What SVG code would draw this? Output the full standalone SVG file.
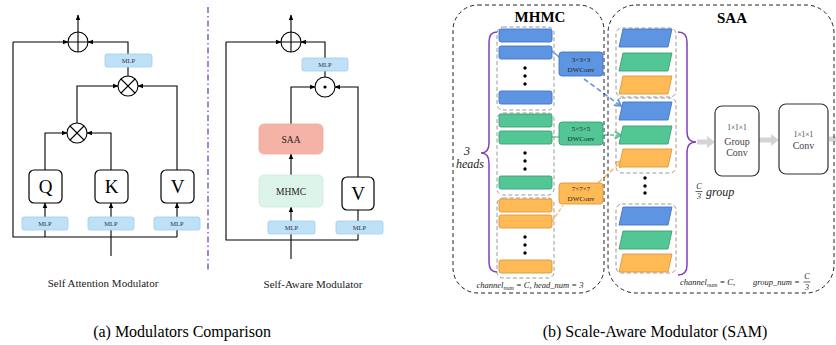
<svg xmlns="http://www.w3.org/2000/svg" width="836" height="345" viewBox="0 0 836 345">
<style>
.ln{fill:none;stroke:#000;stroke-width:1.1}
.circ{fill:#fff;stroke:#000;stroke-width:1.1}
.mlp{fill:#BFE1F8;stroke:#9FCDEF;stroke-width:0.8}
.mlpt{font-family:"Liberation Serif",serif;font-size:6.5px;fill:#333;text-anchor:middle}
.box{fill:#fff;stroke:#000;stroke-width:1.2}
.big{font-family:"Liberation Serif",serif;font-size:19px;fill:#000;text-anchor:middle}
.lbl{font-family:"Liberation Serif",serif;font-size:11px;fill:#222;text-anchor:middle}
.cap{font-family:"Liberation Serif",serif;font-size:16px;fill:#000;text-anchor:middle}
.title{font-family:"Liberation Serif",serif;font-size:15px;font-weight:bold;fill:#000;text-anchor:middle}
.dash{fill:none;stroke:#222;stroke-width:1;stroke-dasharray:4 3}
.gdash{fill:none;stroke:#9a9a9a;stroke-width:1;stroke-dasharray:4 2.5}
.bl{fill:#5E95E3;stroke:#4472C4;stroke-width:0.9}
.gr{fill:#52C795;stroke:#3C9E73;stroke-width:0.9}
.or{fill:#FFBA55;stroke:#D9993D;stroke-width:0.9}
.dw{font-family:"Liberation Serif",serif;font-size:7px;fill:#222;text-anchor:middle}
.it{font-family:"Liberation Serif",serif;font-style:italic;fill:#222}
.brace{fill:none;stroke:#7F3FBF;stroke-width:1.5}
.gt{font-family:"Liberation Serif",serif;fill:#444;text-anchor:middle}
.garrow{fill:#D4D4D4}
</style>
<defs>
<marker id="ah" viewBox="0 0 10 10" refX="9" refY="5" markerWidth="6" markerHeight="6" markerUnits="userSpaceOnUse" orient="auto"><path d="M0,1 L10,5 L0,9 z" fill="#000"/></marker>
<marker id="cb" viewBox="0 0 10 10" refX="8" refY="5" markerWidth="9" markerHeight="9" markerUnits="userSpaceOnUse" orient="auto"><path d="M1,1 L8,5 L1,9" fill="none" stroke="#5E95E3" stroke-width="2"/></marker>
<marker id="cg" viewBox="0 0 10 10" refX="8" refY="5" markerWidth="9" markerHeight="9" markerUnits="userSpaceOnUse" orient="auto"><path d="M1,1 L8,5 L1,9" fill="none" stroke="#52C795" stroke-width="2"/></marker>
<marker id="co" viewBox="0 0 10 10" refX="8" refY="5" markerWidth="9" markerHeight="9" markerUnits="userSpaceOnUse" orient="auto"><path d="M1,1 L8,5 L1,9" fill="none" stroke="#FFBA55" stroke-width="2"/></marker>
</defs>
<rect width="836" height="345" fill="#fff"/>

<!-- ========== connectors ========== -->
<g id="connectors">
  <!-- (a) Self Attention Modulator -->
  <path class="ln" d="M78,32 L78,15" marker-end="url(#ah)"/>
  <path class="ln" d="M13,42 L13,237 L177,237"/>
  <path class="ln" d="M13,42 L68,42" marker-end="url(#ah)"/>
  <path class="ln" d="M128,54 L128,42 L88,42" marker-end="url(#ah)"/>
  <path class="ln" d="M128,76 L128,67"/>
  <path class="ln" d="M77,123 L77,86 L118,86" marker-end="url(#ah)"/>
  <path class="ln" d="M177,170 L177,86 L138,86" marker-end="url(#ah)"/>
  <path class="ln" d="M45,170 L45,133 L67,133" marker-end="url(#ah)"/>
  <path class="ln" d="M111,170 L111,133 L87,133" marker-end="url(#ah)"/>
  <path class="ln" d="M45,217 L45,203" marker-end="url(#ah)"/>
  <path class="ln" d="M111,217 L111,203" marker-end="url(#ah)"/>
  <path class="ln" d="M177,217 L177,203" marker-end="url(#ah)"/>
  <path class="ln" d="M45,237 L45,230"/>
  <path class="ln" d="M177,237 L177,230"/>
  <path class="ln" d="M111,256 L111,230"/>

  <!-- (a) Self-Aware Modulator -->
  <path class="ln" d="M291,32 L291,15" marker-end="url(#ah)"/>
  <path class="ln" d="M226,42 L226,240 L358,240"/>
  <path class="ln" d="M226,42 L281,42" marker-end="url(#ah)"/>
  <path class="ln" d="M325,58 L325,42 L301,42" marker-end="url(#ah)"/>
  <path class="ln" d="M325,77 L325,71"/>
  <path class="ln" d="M291,124 L291,87 L315,87" marker-end="url(#ah)"/>
  <path class="ln" d="M358,177 L358,87 L335,87" marker-end="url(#ah)"/>
  <path class="ln" d="M291,175 L291,154" marker-end="url(#ah)"/>
  <path class="ln" d="M291,221 L291,207" marker-end="url(#ah)"/>
  <path class="ln" d="M358,240 L358,210"/>
  <path class="ln" d="M291,259 L291,234"/>

  <!-- divider -->
  <path d="M208,7 L208,272" fill="none" stroke="#7B3FC0" stroke-width="1.3" stroke-dasharray="6 3 1.5 3"/>

  <!-- (b) bar to DWConv -->
  <path d="M552,51 L559,57" fill="none" stroke="#5E95E3" stroke-width="1.3"/>
  <path d="M552,137 L559,137" fill="none" stroke="#52C795" stroke-width="1.3"/>
  <path d="M552,222 L563,205" fill="none" stroke="#FFBA55" stroke-width="1.3" stroke-dasharray="4 2"/>
  <!-- DWConv to SAA -->
  <path d="M584,79 L621,106" fill="none" stroke="#5E95E3" stroke-width="1.6" stroke-dasharray="5 3" marker-end="url(#cb)"/>
  <path d="M604,135 L621,135" fill="none" stroke="#52C795" stroke-width="1.6" stroke-dasharray="4 2" marker-end="url(#cg)"/>
  <path d="M598,183 L622,161" fill="none" stroke="#FFBA55" stroke-width="1.6" stroke-dasharray="5 3" marker-end="url(#co)"/>

  <!-- gray big arrows -->
  <polygon class="garrow" points="697,139.5 707,139.5 707,136 715,142 707,148 707,144.5 697,144.5"/>
  <polygon class="garrow" points="759,137.5 771,137.5 771,134 779,140 771,146 771,142.5 759,142.5"/>
  <polygon class="garrow" points="829,136.5 836,136.5 836,141.5 829,141.5"/>
</g>

<!-- ========== (a) nodes ========== -->
<g id="sa-plus"><circle class="circ" cx="78" cy="42" r="10"/><path class="ln" d="M68,42 H88 M78,32 V52"/></g>
<g id="sa-mlp-top"><rect class="mlp" x="105" y="54" width="47" height="13" rx="2"/><text class="mlpt" x="128.5" y="63">MLP</text></g>
<g id="sa-otimes2"><circle class="circ" cx="128" cy="86" r="10"/><path class="ln" d="M121,79 L135,93 M135,79 L121,93"/></g>
<g id="sa-otimes1"><circle class="circ" cx="77" cy="133" r="10"/><path class="ln" d="M70,126 L84,140 M84,126 L70,140"/></g>
<g id="sa-q"><rect class="box" x="29" y="170" width="33" height="33" rx="5"/><text class="big" x="45.5" y="193">Q</text></g>
<g id="sa-k"><rect class="box" x="95" y="170" width="33" height="33" rx="5"/><text class="big" x="111.5" y="193">K</text></g>
<g id="sa-v"><rect class="box" x="161" y="170" width="33" height="33" rx="5"/><text class="big" x="177.5" y="193">V</text></g>
<g id="sa-mlp-q"><rect class="mlp" x="22" y="217" width="46" height="13" rx="2"/><text class="mlpt" x="45" y="226">MLP</text></g>
<g id="sa-mlp-k"><rect class="mlp" x="88" y="217" width="46" height="13" rx="2"/><text class="mlpt" x="111" y="226">MLP</text></g>
<g id="sa-mlp-v"><rect class="mlp" x="154" y="217" width="46" height="13" rx="2"/><text class="mlpt" x="177" y="226">MLP</text></g>
<text class="lbl" x="103" y="287">Self Attention Modulator</text>

<g id="sam-plus"><circle class="circ" cx="291" cy="42" r="10"/><path class="ln" d="M281,42 H301 M291,32 V52"/></g>
<g id="sam-mlp-top"><rect class="mlp" x="302" y="58" width="46" height="13" rx="2"/><text class="mlpt" x="325" y="67">MLP</text></g>
<g id="sam-odot"><circle class="circ" cx="325" cy="87" r="10"/><circle cx="325" cy="87" r="1.6" fill="#000"/></g>
<g id="sam-saa"><rect x="259" y="124" width="64" height="30" rx="5" fill="#F5B3A7" stroke="#F0A89B" stroke-width="0.8"/><text class="lbl" x="291" y="143" style="font-size:9.5px">SAA</text></g>
<g id="sam-mhmc"><rect x="259" y="175" width="64" height="32" rx="5" fill="#DDF4EA" stroke="#C6EDDA" stroke-width="0.8"/><text class="lbl" x="291" y="195" style="font-size:9.5px">MHMC</text></g>
<g id="sam-v"><rect class="box" x="342" y="177" width="32" height="33" rx="5"/><text class="big" x="358" y="200">V</text></g>
<g id="sam-mlp1"><rect class="mlp" x="268" y="221" width="47" height="13" rx="2"/><text class="mlpt" x="291.5" y="230">MLP</text></g>
<g id="sam-mlp2"><rect class="mlp" x="336" y="221" width="47" height="13" rx="2"/><text class="mlpt" x="359.5" y="230">MLP</text></g>
<text class="lbl" x="313" y="288">Self-Aware Modulator</text>

<text class="cap" x="182" y="337">(a) Modulators Comparison</text>

<!-- ========== (b) MHMC ========== -->
<g id="mhmc">
  <rect class="dash" x="453" y="5" width="151" height="288" rx="25"/>
  <text class="title" x="540" y="22">MHMC</text>
  <rect class="gdash" x="497" y="27" width="57" height="83" rx="6"/>
  <rect class="gdash" x="497" y="113" width="57" height="82" rx="6"/>
  <rect class="gdash" x="497" y="198" width="57" height="80" rx="6"/>
  <rect class="bl" x="499" y="29" width="53" height="13" rx="2"/>
  <rect class="bl" x="499" y="46" width="53" height="13" rx="2"/>
  <rect class="bl" x="499" y="91" width="53" height="13" rx="2"/>
  <rect class="gr" x="499" y="114" width="53" height="13" rx="2"/>
  <rect class="gr" x="499" y="131" width="53" height="13" rx="2"/>
  <rect class="gr" x="499" y="176" width="53" height="13" rx="2"/>
  <rect class="or" x="499" y="199" width="53" height="13" rx="2"/>
  <rect class="or" x="499" y="215" width="53" height="13" rx="2"/>
  <rect class="or" x="499" y="260" width="53" height="13" rx="2"/>
  <g fill="#000">
    <circle cx="525" cy="68" r="1.7"/><circle cx="525" cy="76" r="1.7"/><circle cx="525" cy="84" r="1.7"/>
    <circle cx="525" cy="153" r="1.7"/><circle cx="525" cy="161" r="1.7"/><circle cx="525" cy="169" r="1.7"/>
    <circle cx="525" cy="237" r="1.7"/><circle cx="525" cy="245" r="1.7"/><circle cx="525" cy="253" r="1.7"/>
  </g>
  <path class="brace" d="M497,32 Q489,32 489,42 L489,143 Q489,153 481,153 Q489,153 489,163 L489,262 Q489,272 497,272"/>
  <text class="it" x="467" y="155" text-anchor="middle" style="font-size:12px">3</text>
  <text class="it" x="470" y="168" text-anchor="middle" style="font-size:12px">heads</text>
  <text class="it" x="530" y="288" text-anchor="middle" style="font-size:8.5px">channel<tspan style="font-size:6px" dy="1.5">num</tspan><tspan dy="-1.5"> = C, head_num = 3</tspan></text>
</g>
<g id="dw3"><rect class="bl" x="559" y="52" width="44" height="24" rx="3"/><text class="dw" x="581" y="62">3×3×3</text><text class="dw" x="581" y="72">DWConv</text></g>
<g id="dw5"><rect class="gr" x="559" y="122" width="44" height="23" rx="3"/><text class="dw" x="581" y="131">5×5×5</text><text class="dw" x="581" y="141">DWConv</text></g>
<g id="dw7"><rect class="or" x="559" y="183" width="44" height="21" rx="3"/><text class="dw" x="581" y="191">7×7×7</text><text class="dw" x="581" y="201">DWConv</text></g>

<!-- ========== (b) SAA ========== -->
<g id="saa">
  <rect class="dash" x="608" y="5" width="226" height="288" rx="28"/>
  <text class="title" x="732" y="23">SAA</text>
  <rect class="gdash" x="616" y="28" width="60" height="69" rx="6"/>
  <rect class="gdash" x="616" y="98" width="60" height="75" rx="6"/>
  <rect class="gdash" x="616" y="204" width="60" height="69" rx="6"/>
  <polygon class="bl" points="623,29 672,29 668,47 619,47"/>
  <polygon class="gr" points="623,53 672,53 668,71 619,71"/>
  <polygon class="or" points="623,76 672,76 668,94 619,94"/>
  <polygon class="bl" points="623,102 672,102 668,120 619,120"/>
  <polygon class="gr" points="623,126 672,126 668,144 619,144"/>
  <polygon class="or" points="623,149 672,149 668,167 619,167"/>
  <polygon class="bl" points="623,207 672,207 668,225 619,225"/>
  <polygon class="gr" points="623,231 672,231 668,249 619,249"/>
  <polygon class="or" points="623,254 672,254 668,272 619,272"/>
  <g fill="#000"><circle cx="645" cy="178" r="1.7"/><circle cx="645" cy="186" r="1.7"/><circle cx="645" cy="193" r="1.7"/></g>
  <path class="brace" d="M678,32 Q687,32 687,42 L687,132 Q687,142 696,142 Q687,142 687,152 L687,265 Q687,275 678,275"/>
  <text class="it" x="699" y="189" text-anchor="middle" style="font-size:8px">C</text>
  <path d="M695.5,191.5 L702.5,191.5" stroke="#222" stroke-width="0.7"/>
  <text class="it" x="699" y="199" text-anchor="middle" style="font-size:8px">3</text>
  <text class="it" x="706" y="196" style="font-size:12px">group</text>
  <text class="it" x="680" y="285" style="font-size:8.5px">channel<tspan style="font-size:6px" dy="1.5">num</tspan><tspan dy="-1.5"> = C,</tspan></text>
  <text class="it" x="753" y="285" style="font-size:8.5px">group_num =</text>
  <text class="it" x="807" y="279" text-anchor="middle" style="font-size:8px">C</text>
  <path d="M803.5,282 L810.5,282" stroke="#222" stroke-width="0.7"/>
  <text class="it" x="807" y="290" text-anchor="middle" style="font-size:8px">3</text>
</g>
<g id="groupconv"><rect x="715" y="106" width="44" height="70" rx="7" fill="#fff" stroke="#333" stroke-width="1.2"/><text class="gt" x="737" y="130" style="font-size:7.5px">1×1×1</text><text class="gt" x="737" y="145" style="font-size:10px">Group</text><text class="gt" x="737" y="156" style="font-size:10px">Conv</text></g>
<g id="conv"><rect x="779" y="104" width="49" height="70" rx="7" fill="#fff" stroke="#333" stroke-width="1.2"/><text class="gt" x="803.5" y="137" style="font-size:7.5px">1×1×1</text><text class="gt" x="803.5" y="149" style="font-size:10px">Conv</text></g>

<text class="cap" x="655" y="337">(b) Scale-Aware Modulator (SAM)</text>
</svg>
